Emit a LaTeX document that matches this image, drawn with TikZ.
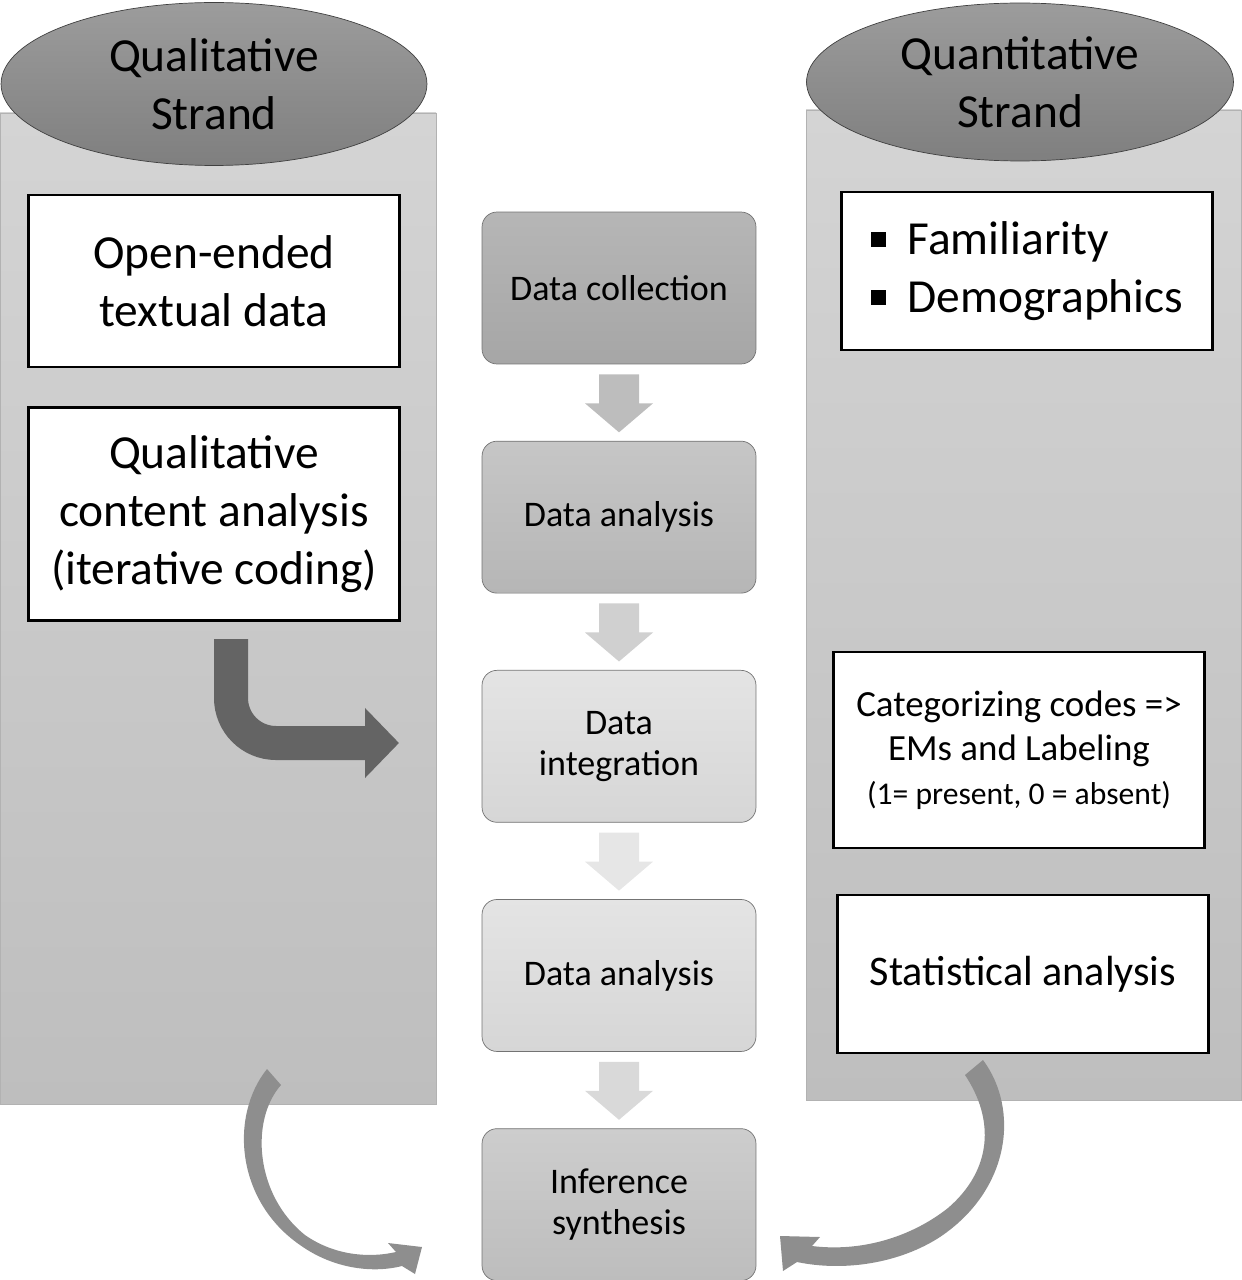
\documentclass[tikz,border=0pt]{standalone}
\usepackage{fontspec}
\setmainfont{Carlito}
\usepackage{tikz}
\usetikzlibrary{arrows.meta, positioning, shapes.geometric, calc}

\definecolor{panelTop}{HTML}{D4D4D4}
\definecolor{panelBot}{HTML}{BEBEBE}
\definecolor{strandTop}{HTML}{9C9C9C}
\definecolor{strandBot}{HTML}{7F7F7F}
\definecolor{flowAtop}{HTML}{B6B6B6}
\definecolor{flowAbot}{HTML}{A6A6A6}
\definecolor{flowBtop}{HTML}{C6C6C6}
\definecolor{flowBbot}{HTML}{B6B6B6}
\definecolor{flowCtop}{HTML}{E4E4E4}
\definecolor{flowCbot}{HTML}{D6D6D6}
\definecolor{flowEtop}{HTML}{CDCDCD}
\definecolor{flowEbot}{HTML}{BDBDBD}
\definecolor{stepA}{HTML}{BDBDBD}
\definecolor{stepB}{HTML}{D0D0D0}
\definecolor{stepC}{HTML}{E6E6E6}
\definecolor{stepD}{HTML}{D9D9D9}
\definecolor{bendgray}{HTML}{646464}
\definecolor{curvegray}{HTML}{8E8E8E}

\newcommand{\bigtext}{\fontsize{27}{33}\selectfont}
\newcommand{\flowtext}{\fontsize{20.5}{23.5}\selectfont}
\newcommand{\midtext}{\fontsize{21}{25}\selectfont}
\newcommand{\smalltext}{\fontsize{18}{24}\selectfont}
\newcommand{\stattext}{\fontsize{24}{29}\selectfont}
\newcommand{\sqbullet}{\rule[0.14cm]{0.3cm}{0.3cm}\hspace{0.44cm}}

\begin{document}
\begin{tikzpicture}[
        x=0.02cm, y=-0.02cm,
        panel/.style={draw=black!30, top color=panelTop, bottom color=panelBot},
        strand/.style={ellipse, draw=black!75, top color=strandTop, bottom color=strandBot, inner sep=0pt, align=center, font=\bigtext},
        sidebox/.style={draw, line width=1.4pt, fill=white, align=center, minimum width=7.42cm, font=\bigtext},
        flowbox/.style={draw=black!55, rounded corners=0.3cm, minimum width=5.48cm, minimum height=3.04cm, align=center, font=\flowtext},
        bendarrow/.style={draw=bendgray, line width=0.68cm, rounded corners=0.9cm, -{Triangle[length=0.68cm, width=1.36cm]}},
        curvearrow/.style={fill=curvegray},
        flowstep/.pic={\path[pic actions] (-20,0) -- (20,0) -- (20,29) -- (34,29) -- (0,58) -- (-34,29) -- (-20,29) -- cycle;},
        node distance=1.53cm
    ]
        \useasboundingbox (0,0) rectangle (1241,1280);

        % the two strands
        \path[panel] (0,113) rectangle (436,1104);
        \path[panel] (806,110) rectangle (1241,1100);
        \node[strand, minimum width=8.52cm, minimum height=3.26cm] (qual) at (214,84) {Qualitative\\Strand};
        \node[strand, minimum width=8.54cm, minimum height=3.16cm] (quant) at (1020,82) {Quantitative\\Strand};

        % qualitative side
        \node[sidebox, minimum height=3.44cm] (qualdata) at (214,281) {Open-ended\\textual data};
        \node[sidebox, minimum height=4.26cm, below=0.76cm of qualdata] (qualcode) {Qualitative\\content analysis\\(iterative coding)};

        % quantitative side
        \node[sidebox, minimum height=3.16cm, align=left] (quantvars) at (1027,271) {\sqbullet Familiarity\\\sqbullet Demographics};
        \node[sidebox, minimum height=3.92cm, font=\midtext] (emcodes) at (1019,750) {Categorizing codes =>\\EMs and Labeling\\\smalltext (1= present, 0 = absent)};
        \node[sidebox, minimum height=3.16cm, font=\stattext] (stats) at (1023,974) {Statistical analysis};

        % coded data goes to integration
        \coordinate (bendstart) at (231,639);
        \coordinate (bendtip) at (399,743);
        \draw[bendarrow] (bendstart) |- (bendtip);

        % both strands feed the synthesis
        \fill[curvearrow] (267,1069) .. controls (230,1115) and (235,1200) .. (300,1245)
            .. controls (335,1270) and (375,1273) .. (402,1266)
            -- (415,1274) -- (422,1247) -- (388,1243) -- (396,1252)
            .. controls (370,1258) and (335,1256) .. (305,1235)
            .. controls (255,1195) and (250,1120) .. (281,1085) -- cycle;
        \fill[curvearrow] (983,1060) .. controls (1020,1110) and (1010,1190) .. (940,1237)
            .. controls (900,1263) and (845,1272) .. (797,1262)
            -- (783,1271) -- (780,1236) -- (820,1237) -- (812,1246)
            .. controls (860,1252) and (910,1238) .. (948,1208)
            .. controls (992,1170) and (995,1120) .. (965,1075) -- cycle;

        % main flow
        \node[flowbox, top color=flowAtop, bottom color=flowAbot] (collect) at (619,288) {Data collection};
        \node[flowbox, top color=flowBtop, bottom color=flowBbot, below=of collect] (analysisA) {Data analysis};
        \node[flowbox, top color=flowCtop, bottom color=flowCbot, below=of analysisA] (integrate) {Data\\integration};
        \node[flowbox, top color=flowCtop, bottom color=flowCbot, below=of integrate] (analysisB) {Data analysis};
        \node[flowbox, top color=flowEtop, bottom color=flowEbot, below=of analysisB] (synth) {Inference\\synthesis};

        \foreach \a/\c in {collect/stepA, analysisA/stepB, integrate/stepC, analysisB/stepD}
            \pic[fill=\c] at ($(\a.south)+(0,10)$) {flowstep};
    \end{tikzpicture}
\end{document}
